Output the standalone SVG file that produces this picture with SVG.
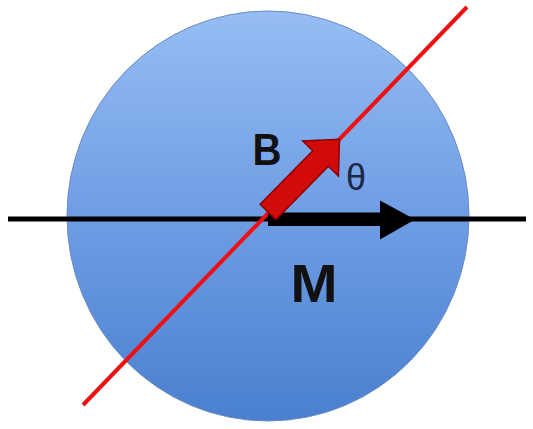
<svg xmlns="http://www.w3.org/2000/svg" width="533" height="429" viewBox="0 0 533 429">
<defs>
<linearGradient id="ball" x1="0" y1="0" x2="0" y2="1">
<stop offset="0" stop-color="#96bdf4"/>
<stop offset="0.5" stop-color="#6f9de4"/>
<stop offset="1" stop-color="#4a80cf"/>
</linearGradient>
</defs>
<style>
.lbl{font-family:"Liberation Sans",Arial,sans-serif;font-weight:bold;fill:#111}
.th{font-family:"Liberation Sans",Arial,sans-serif;fill:#1c2748}
</style>
<rect width="533" height="429" fill="#ffffff"/>
<g id="sphere">
<ellipse cx="268" cy="216" rx="201" ry="205" fill="url(#ball)" stroke="#6a8cc0" stroke-width="1"/>
</g>
<g id="connectors">
<line x1="8" y1="219" x2="526" y2="219" stroke="#000" stroke-width="5"/>
<line x1="83" y1="405" x2="467" y2="7" stroke="#ee1111" stroke-width="4"/>
</g>
<g id="M-arrow">
<path d="M268 212.5 H380 V200.5 L415 219.5 L380 239.5 V226 H268 Z" fill="#000"/>
</g>
<g id="B-arrow">
<path transform="translate(268 212) rotate(-45.5)" d="M0 -11 H75 V-25 L102 0 L75 25 V11 H0 Z" fill="#d10a0a" stroke="#8a0000" stroke-width="1.5" stroke-linejoin="miter"/>
</g>
<g id="labels">
<text class="lbl" x="267" y="165" font-size="45" text-anchor="middle" textLength="29" lengthAdjust="spacingAndGlyphs">B</text>
<text class="lbl" x="314" y="302" font-size="53" text-anchor="middle" textLength="47" lengthAdjust="spacingAndGlyphs">M</text>
<text class="th" x="356" y="190" font-size="36" text-anchor="middle">θ</text>
</g>
</svg>
